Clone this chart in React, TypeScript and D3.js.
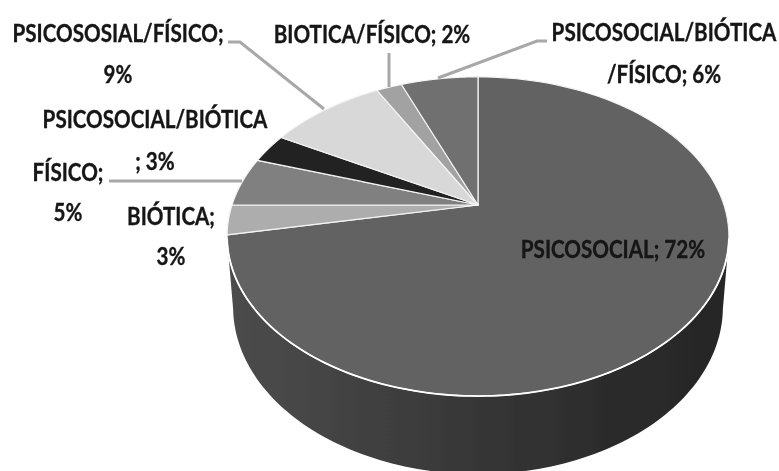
import React from "react";
import * as d3 from "d3";

const categories = ["PSICOSOCIAL", "BIÓTICA", "FÍSICO", "PSICOSOCIAL/BIÓTICA", "PSICOSOSIAL/FÍSICO", "BIOTICA/FÍSICO", "PSICOSOCIAL/BIÓTICA/FÍSICO"];
const values = [72, 3, 5, 3, 9, 2, 6];
const sliceColors = ["#626262", "#adadad", "#808080", "#232323", "#d8d8d8", "#a2a2a2", "#6f6f6f"];

const W = 779, H = 471;
const cx = 478, cy = 205, R = 246, S = 153.4, k = 0.197;
const rimY = 236.5, baseY = 307, baseSx = 0.976, baseSy = 1.047;

type L = { lines: string[]; x: number; y: number[] };
const labelLayout: L[] = [
  { lines: ["PSICOSOCIAL; 72%"], x: 613, y: [258] },
  { lines: ["BIÓTICA;", "3%"], x: 171, y: [225, 265] },
  { lines: ["FÍSICO;", "5%"], x: 68, y: [181, 221] },
  { lines: ["PSICOSOCIAL/BIÓTICA", "; 3%"], x: 155, y: [128, 170] },
  { lines: ["PSICOSOSIAL/FÍSICO;", "9%"], x: 118, y: [42, 83] },
  { lines: ["BIOTICA/FÍSICO; 2%"], x: 372, y: [43] },
  { lines: ["PSICOSOCIAL/BIÓTICA", "/FÍSICO; 6%"], x: 664, y: [41, 83] },
];

const leaders: [number, number][][] = [
  [[228, 42], [240, 42], [324, 109]],
  [[109, 181], [242, 181]],
  [[389, 53], [389, 87]],
  [[547, 41], [537, 41], [438, 78]],
];

// 3-D tilt: pie angle (clockwise from 12 o'clock) to screen point
const project = (a: number, r = 1): [number, number] => {
  const u = r * Math.sin(a), v = -r * Math.cos(a), w = 1 - k * v;
  return [cx + (R * u) / w, cy + (S * v) / w];
};
const line = d3.line<[number, number]>().x(d => d[0]).y(d => d[1]);
const arcPts = (a0: number, a1: number) =>
  d3.range(0, 121).map(i => project(a0 + ((a1 - a0) * i) / 120));
const toBase = (p: [number, number]): [number, number] => [
  cx + (p[0] - cx) * baseSx,
  baseY + (p[1] - rimY) * baseSy,
];

export default function App() {
  const arcs = d3.pie<number>().sort(null)(values);
  const apex = project(0, 0);
  const slices = arcs.map(d => line([apex, ...arcPts(d.startAngle, d.endAngle)])! + "Z");
  // Front wall: visible half of the rim and the lower rim
  const start = Math.PI * 0.567, end = Math.PI * 1.433;
  const frontRim = arcPts(start, end);
  const wall = [...frontRim, ...frontRim.map(toBase).reverse()];
  return (
    <svg width={W} height={H} style={{ position: "absolute", left: 0, top: 0, background: "#fff" }}
      fontFamily="Lato, Carlito, sans-serif" fontWeight={700}>
      <defs>
        <linearGradient id="wall" x1="0" x2="1" y1="0" y2="0">
          <stop offset="0" stopColor="#4c4c4c" />
          <stop offset="0.25" stopColor="#424242" />
          <stop offset="0.55" stopColor="#343434" />
          <stop offset="0.8" stopColor="#2a2a2a" />
          <stop offset="1" stopColor="#272727" />
        </linearGradient>
        <filter id="soft" x="-5%" y="-5%" width="110%" height="110%">
          <feGaussianBlur stdDeviation="0.5" />
        </filter>
      </defs>
      <g filter="url(#soft)">
        <path d={line(wall)! + "Z"} fill="url(#wall)" />
        {slices.map((d, i) => (
          <path key={categories[i]} d={d} fill={sliceColors[i]} stroke="#f4f4f4" strokeWidth={1.2} strokeLinejoin="round" />
        ))}
        <path d={line(frontRim)!} fill="none" stroke="#ffffff" strokeWidth={1.8} />
        {leaders.map((pts, i) => (
          <path key={i} d={line(pts)!} fill="none" stroke="#a8a8a8" strokeWidth={3} />
        ))}
        {labelLayout.map(l =>
          l.lines.map((t, j) => (
            <text key={t} transform={`translate(${l.x},${l.y[j]}) scale(0.825,1)`} textAnchor="middle" fontSize={25} fill="#141414" stroke="#141414" strokeWidth={0.35}>{t}</text>
          ))
        )}
      </g>
    </svg>
  );
}
